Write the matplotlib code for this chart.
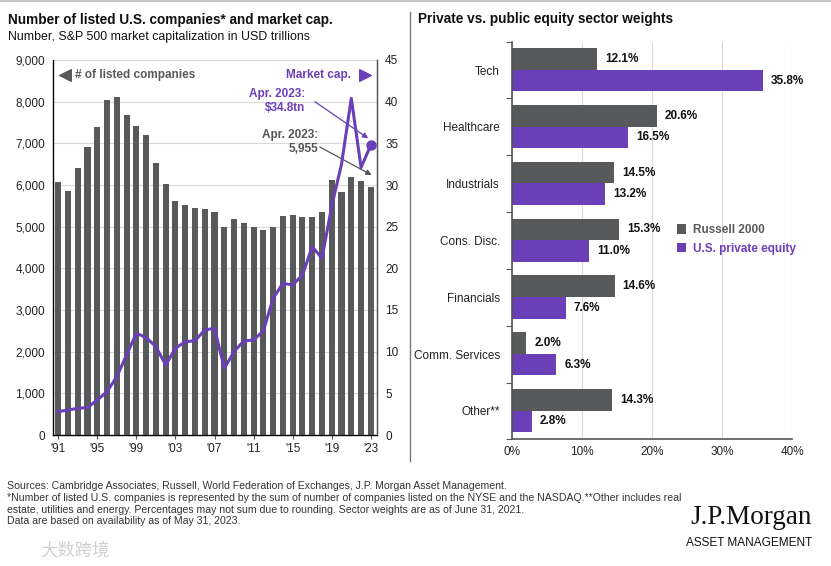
import matplotlib
matplotlib.use("Agg")
import matplotlib.pyplot as plt
import numpy as np
from matplotlib.lines import Line2D

plt.rcParams['font.family'] = ['Liberation Sans', 'DejaVu Sans']

# ---------------- data ----------------
years = list(range(1991, 2024))
listed_companies = [6080, 5860, 6400, 6920, 7380, 8040, 8120, 7680, 7420, 7200,
                    6530, 6020, 5610, 5520, 5440, 5420, 5350, 4990, 5180, 5090,
                    4990, 4910, 5000, 5260, 5290, 5220, 5240, 5360, 6110, 5820,
                    6200, 6100, 5955]
market_cap = [2.8, 3.0, 3.2, 3.3, 4.2, 5.2, 7.0, 9.6, 12.2, 11.7,
              10.6, 8.4, 10.4, 11.2, 11.3, 12.6, 12.8, 8.0, 10.0, 11.3,
              11.4, 12.5, 16.4, 18.2, 18.0, 19.2, 22.6, 21.2, 27.5, 32.5,
              40.4, 32.1, 34.8]
xtick_years = [1991, 1995, 1999, 2003, 2007, 2011, 2015, 2019, 2023]
xtick_labels = ["'91", "'95", "'99", "'03", "'07", "'11", "'15", "'19", "'23"]
left_ticks = [0, 1000, 2000, 3000, 4000, 5000, 6000, 7000, 8000, 9000]
right_ticks = [0, 5, 10, 15, 20, 25, 30, 35, 40, 45]

sectors = ["Tech", "Healthcare", "Industrials", "Cons. Disc.", "Financials",
           "Comm. Services", "Other**"]
russell_2000 = [12.1, 20.6, 14.5, 15.3, 14.6, 2.0, 14.3]
private_equity = [35.8, 16.5, 13.2, 11.0, 7.6, 6.3, 2.8]
pct_ticks = [0, 10, 20, 30, 40]

GRAY = '#58595b'
PURPLE = '#6a3fb8'
TXT = '#222222'
GRID = '#d9d9d9'

W, H = 831, 566
fig = plt.figure(figsize=(W / 100, H / 100), dpi=100)

def fx(px):
    return px / W

def fy(py):
    return 1 - py / H

# ---------------- left panel ----------------
axL = fig.add_axes([fx(53.3), fy(435), fx(376.7) - fx(53.3), fy(60) - fy(435)])
axL.bar(years, listed_companies, width=0.62, color=GRAY, zorder=2)
axL.set_xlim(1990.5, 2023.6)
axL.set_ylim(0, 9000)
axL.set_yticks(left_ticks)
axL.set_yticklabels([f"{v:,}" for v in left_ticks])
axL.set_xticks(xtick_years)
axL.set_xticklabels(xtick_labels)
axL.grid(axis='y', color=GRID, lw=0.8, zorder=0)
axL.set_axisbelow(True)
axL.tick_params(axis='y', length=0, labelsize=8.5, labelcolor=TXT, pad=6)
axL.tick_params(axis='x', length=3, color='#555555', labelsize=8.5, labelcolor=TXT, pad=3)
axL.spines['top'].set_visible(False)
for s in ['left', 'right', 'bottom']:
    axL.spines[s].set_color('#555555')
    axL.spines[s].set_linewidth(1.0)

axR = axL.twinx()
axR.plot(years, market_cap, color=PURPLE, lw=2.2, zorder=3)
axR.plot([years[-1]], [market_cap[-1]], 'o', color=PURPLE, ms=6.5, zorder=4)
axR.set_ylim(0, 45)
axR.set_yticks(right_ticks)
axR.tick_params(axis='y', length=0, labelsize=8.5, labelcolor=TXT, pad=6)
axR.spines['top'].set_visible(False)
axR.spines['right'].set_color('#555555')

# legend-like labels inside left panel
axL.scatter([0.035], [0.96], marker='<', s=70, color=GRAY, transform=axL.transAxes, clip_on=False, zorder=5)
axL.text(0.068, 0.96, "# of listed companies", transform=axL.transAxes, color=GRAY,
         fontsize=8.5, fontweight='bold', va='center', ha='left')
axL.scatter([0.965], [0.96], marker='>', s=70, color=PURPLE, transform=axL.transAxes, clip_on=False, zorder=5)
axL.text(0.922, 0.96, "Market cap.", transform=axL.transAxes, color=PURPLE,
         fontsize=8.5, fontweight='bold', va='center', ha='right')

# annotations
axR.text(2016.25, 40.1, f"Apr. 2023:\n${market_cap[-1]}tn", color=PURPLE, fontsize=8.5,
         fontweight='bold', ha='right', va='center', multialignment='right', linespacing=1.15)
axR.annotate("", xy=(2022.73, 35.6), xytext=(2017.27, 40.0),
             arrowprops=dict(arrowstyle='-|>', color=PURPLE, lw=0.9, mutation_scale=8,
                             shrinkA=0, shrinkB=0))
axL.text(2017.58, 7030, f"Apr. 2023:\n{listed_companies[-1]:,}", color='#555555', fontsize=8.5,
         fontweight='bold', ha='right', va='center', multialignment='right', linespacing=1.15)
axL.annotate("", xy=(2023.08, 6240), xytext=(2017.78, 6912),
             arrowprops=dict(arrowstyle='-|>', color='#555555', lw=0.9, mutation_scale=8,
                             shrinkA=0, shrinkB=0))

# titles
fig.text(fx(8), fy(20), "Number of listed U.S. companies* and market cap.", fontsize=9.8,
         fontweight='bold', color='#111111', va='center', ha='left')
fig.text(fx(8), fy(37), "Number, S&P 500 market capitalization in USD trillions", fontsize=8.9,
         color='#111111', va='center', ha='left')

# ---------------- right panel ----------------
ax2 = fig.add_axes([fx(512.3), fy(439.3), fx(792.3) - fx(512.3), fy(41.7) - fy(439.3)])
pos = np.arange(len(sectors))
bh = 0.38
ax2.barh(pos - 0.195, russell_2000, height=bh, color=GRAY, zorder=2, label="Russell 2000")
ax2.barh(pos + 0.185, private_equity, height=bh, color=PURPLE, zorder=2, label="U.S. private equity")
for i, (a, b) in enumerate(zip(russell_2000, private_equity)):
    ax2.text(a + 1.15, i - 0.195, f"{a:.1f}%", va='center', ha='left', fontsize=8.5,
             fontweight='bold', color='#111111')
    ax2.text(b + 1.15, i + 0.185, f"{b:.1f}%", va='center', ha='left', fontsize=8.5,
             fontweight='bold', color='#111111')
ax2.set_ylim(len(sectors) - 0.5, -0.5)
ax2.set_xlim(0, 40)
ax2.set_xticks(pct_ticks)
ax2.set_xticklabels([f"{v}%" for v in pct_ticks])
ax2.set_yticks(np.arange(-0.5, len(sectors), 1.0))
ax2.set_yticklabels([])
ax2.set_yticks(pos, minor=True)
ax2.set_yticklabels(sectors, minor=True)
ax2.tick_params(axis='y', which='major', length=4, color='#555555')
ax2.tick_params(axis='y', which='minor', length=0, labelsize=8.5, labelcolor=TXT, pad=9)
ax2.tick_params(axis='x', length=0, labelsize=8.5, labelcolor=TXT, pad=5)
ax2.grid(axis='x', color=GRID, lw=0.8, zorder=0)
ax2.set_axisbelow(True)
for s in ['top', 'right']:
    ax2.spines[s].set_visible(False)
for s in ['left', 'bottom']:
    ax2.spines[s].set_color('#555555')
    ax2.spines[s].set_linewidth(1.2)

leg = ax2.legend(loc='upper left', bbox_to_anchor=(0.571, 0.553), frameon=False,
                 fontsize=8.5, handlelength=0.8, handleheight=0.9, handletextpad=0.6,
                 labelspacing=0.55, borderaxespad=0)
for t, c in zip(leg.get_texts(), [GRAY, PURPLE]):
    t.set_color(c)
    t.set_fontweight('bold')

fig.text(fx(418), fy(19), "Private vs. public equity sector weights", fontsize=9.8,
         fontweight='bold', color='#111111', va='center', ha='left')

# divider lines
fig.add_artist(Line2D([fx(410), fx(410)], [fy(12), fy(461)], color='#777777', lw=1.0))
fig.add_artist(Line2D([0, 1], [fy(0.8), fy(0.8)], color='#bbbbbb', lw=1.2))

# ---------------- footer ----------------
foot_font = ['Liberation Sans Narrow', 'Liberation Sans', 'DejaVu Sans']
footer = [
    "Sources: Cambridge Associates, Russell, World Federation of Exchanges, J.P. Morgan Asset Management.",
    "*Number of listed U.S. companies is represented by the sum of number of companies listed on the NYSE and the NASDAQ.**Other includes real",
    "estate, utilities and energy. Percentages may not sum due to rounding. Sector weights are as of June 31, 2021.",
    "Data are based on availability as of May 31, 2023.",
]
for k, line in enumerate(footer):
    fig.text(fx(7), fy(486 + k * 11.8), line, fontsize=7.6, family=foot_font,
             color='#333333', va='center', ha='left')

fig.text(fx(812), fy(518), "J.P.Morgan", fontsize=19.5, family=['Liberation Serif', 'DejaVu Serif'],
         color='#111111', va='center', ha='right')
fig.text(fx(812), fy(543.5), "ASSET MANAGEMENT", fontsize=8.5, family=foot_font,
         color='#111111', va='center', ha='right')
fig.text(fx(40), fy(550), "大数跨境", fontsize=12.5, family=['Noto Sans CJK SC', 'DejaVu Sans'],
         color='#d0d0d0', va='center', ha='left')

fig.savefig("out.png", dpi=100)
